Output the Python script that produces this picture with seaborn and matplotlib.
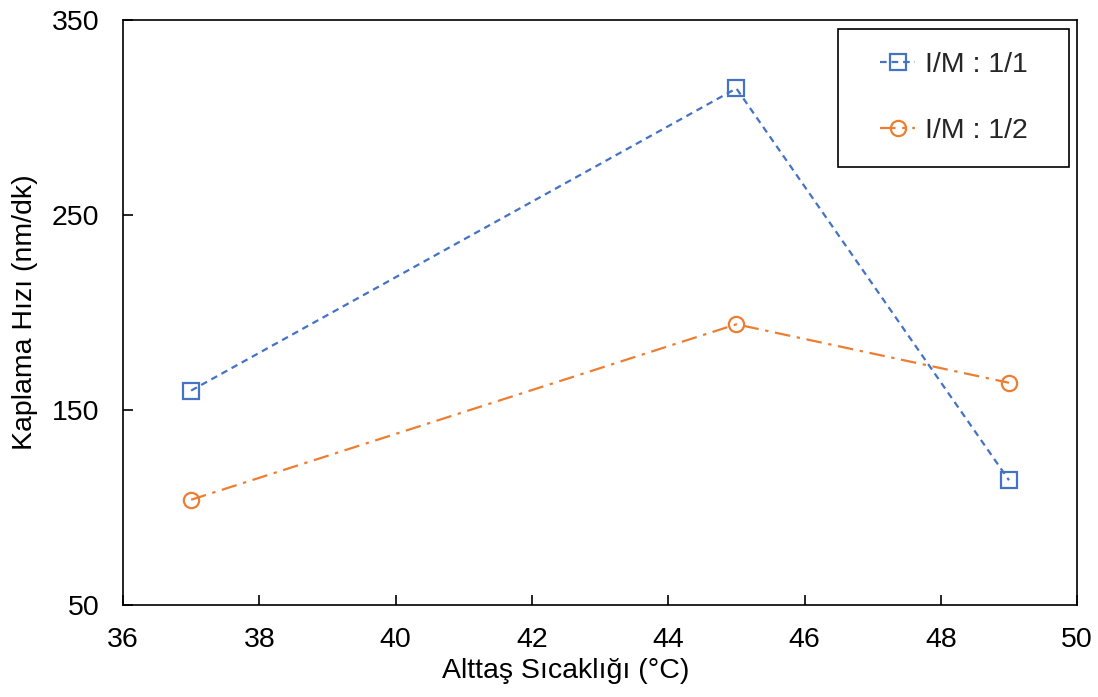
import matplotlib
matplotlib.use("Agg")
import matplotlib.pyplot as plt
from matplotlib.patches import Rectangle
import seaborn as sns
import pandas as pd

temps = [37, 45, 49]
rate_11 = [160, 315, 114]
rate_12 = [104, 194, 164]
series_names = ["I/M : 1/1", "I/M : 1/2"]
x_ticks = [36, 38, 40, 42, 44, 46, 48, 50]
y_ticks = [50, 150, 250, 350]

sns.set_theme(style="white")
plt.rcParams['font.family'] = ['Liberation Sans', 'DejaVu Sans']

df = pd.DataFrame({
    "T": temps * 2,
    "rate": rate_11 + rate_12,
    "series": [series_names[0]] * 3 + [series_names[1]] * 3,
})

fig = plt.figure(figsize=(10.98, 6.97), dpi=100)
ax = fig.add_axes([0.112, 0.132, 0.869, 0.839])

colors = {series_names[0]: "#4472C4", series_names[1]: "#ED7D31"}
styles = {series_names[0]: (0, (3.0, 2.2)), series_names[1]: (0, (7, 3, 1.5, 3))}
markers = {series_names[0]: "s", series_names[1]: "o"}

for name in series_names:
    sub = df[df.series == name]
    sns.lineplot(data=sub, x="T", y="rate", ax=ax, color=colors[name],
                 linestyle=styles[name], linewidth=1.6, marker=markers[name],
                 markersize=11, markerfacecolor="none", markeredgecolor=colors[name],
                 markeredgewidth=1.6, label=name)

ax.set_xlim(36, 50)
ax.set_ylim(50, 350)
ax.set_xticks(x_ticks)
ax.set_yticks(y_ticks)
ax.tick_params(direction="in", length=7, width=1.2, labelsize=20.5, colors="black",
               bottom=True, left=True)
ax.tick_params(axis="x", pad=16)
ax.tick_params(axis="y", pad=17)
for s in ax.spines.values():
    s.set_color("black")
    s.set_linewidth(1.2)
ax.set_xlabel("Alttaş Sıcaklığı (°C)", fontsize=20.5, color="black", labelpad=10)
ax.xaxis.set_label_coords(0.464, -0.09)
ax.set_ylabel("Kaplama Hızı (nm/dk)", fontsize=20.5, color="black", labelpad=10)
ax.grid(False)

leg = ax.legend(loc="center", bbox_to_anchor=(0.871, 0.8675), fontsize=20.5,
                frameon=False, handlelength=1.25, handletextpad=0.35,
                borderpad=0, labelspacing=1.4)
ax.add_patch(Rectangle((0.749, 0.749), 0.242, 0.236, transform=ax.transAxes,
                       fill=True, facecolor="white", edgecolor="black",
                       linewidth=1.2, zorder=4))
leg.set_zorder(5)

fig.savefig("out.png", dpi=100)
